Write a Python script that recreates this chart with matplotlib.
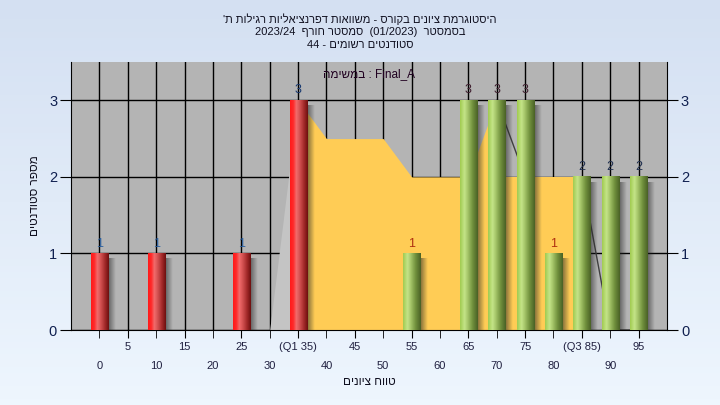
import re
import numpy as np
import matplotlib
matplotlib.use("Agg")
import matplotlib.pyplot as plt
from matplotlib.colors import LinearSegmentedColormap, to_rgb

plt.rcParams['font.family'] = ['Liberation Sans', 'DejaVu Sans']

# grade bins and number of students in each
grades = [0, 5, 10, 15, 20, 25, 30, 35, 40, 45, 50, 55, 60, 65, 70, 75, 80, 85, 90, 95]
counts = [1, 0, 1, 0, 0, 1, 0, 3, 0, 0, 0, 1, 0, 3, 3, 3, 1, 2, 2, 2]
q1, q3 = 35, 85
# the yellow trend area behind the bars
trend = [0, 0, 0, 0, 0, 0, 0, 3, 2.5, 2.5, 2.5, 2, 2, 2, 3, 2, 2, 2, 0, 0]

row1_labels = ['5', '15', '25', '(Q1 35)', '45', '55', '65', '75', '(Q3 85)', '95']
row2_labels = ['0', '10', '20', '30', '40', '50', '60', '70', '80', '90']

title_lines = ["היסטוגרמת ציונים בקורס - משוואות דפרנציאליות רגילות ת'",
               "בסמסטר  (01/2023)  סמסטר חורף  2023/24",
               "סטודנטים רשומים - 44"]
task_word = "במשימה"
task_name = "Final_A"
xlabel = "טווח ציונים"
ylabel = "מספר סטודנטים"


def vis(s):
    # matplotlib does no bidi, so lay the RTL text out in visual order
    r = s[::-1]
    r = re.sub(r'[0-9A-Za-z_/.]+', lambda m: m.group(0)[::-1], r)
    return r.translate(str.maketrans('()', ')('))


def hgrad(stops, n=48):
    cm = LinearSegmentedColormap.from_list('g', stops)
    return cm(np.linspace(0, 1, n))[np.newaxis, :, :3]


red_grad = hgrad([(0, '#ff1a1a'), (0.18, '#ff2a2a'), (0.35, '#f26c6c'),
                  (0.55, '#d25050'), (0.8, '#a02828'), (1, '#6e1010')])
green_grad = hgrad([(0, '#a2cc52'), (0.25, '#c4e488'), (0.45, '#a2c266'),
                    (0.7, '#72923e'), (1, '#4a6226')])
shadow = np.zeros((1, 24, 4))
shadow[..., :3] = 0.15
shadow[..., 3] = np.linspace(0.6, 0, 24)

x = np.arange(len(grades))
tr = np.array(trend, dtype=float)

fig = plt.figure(figsize=(7.2, 4.05), dpi=100)
bg = fig.add_axes([0, 0, 1, 1], zorder=-10)
top, bot = np.array(to_rgb('#d4e0f2')), np.array(to_rgb('#eef6fe'))
bg.imshow(np.linspace(0, 1, 64)[:, None, None] * (bot - top) + top, aspect='auto')
bg.axis('off')

ax = fig.add_axes([71 / 720, 1 - 330 / 405, 596 / 720, 268 / 405])
ax.set_facecolor('#b4b4b4')

# trend area pieces
ax.fill_between(x[6:8], tr[6:8], color='#c4c4c4', lw=0, zorder=1)
ax.fill_between(x[7:15], tr[7:15], color='#ffcc55', lw=0, zorder=1)
ax.fill_between(x[14:18], np.minimum(tr[14:18], 2), color='#ffcc55', lw=0, zorder=1)
ax.plot(x[14:16], tr[14:16], color='#404040', lw=1, zorder=1.5)
ax.plot(x[17:20], tr[17:20], color='#404040', lw=1, zorder=1.5)

w = 0.6
lab_colors = {1: '#b03010', 2: '#203050', 3: '#402030'}
for xi, g, c in zip(x, grades, counts):
    if c == 0:
        continue
    red = g <= q1
    ax.imshow(shadow, extent=(xi + w / 2, xi + w / 2 + 0.25, 0, c - 0.07),
              aspect='auto', zorder=2.5)
    ax.imshow(red_grad if red else green_grad, extent=(xi - w / 2, xi + w / 2, 0, c),
              aspect='auto', zorder=3)
    ax.text(xi, c + 0.05, str(c), ha='center', va='bottom', fontsize=9,
            color=('#1a3a70' if c == 3 else '#2b5f9e') if red else lab_colors[c], zorder=4)
ax.set_xlim(-1, 20)
ax.set_ylim(0, 3.5)

ax.set_xticks(x[1::2])
ax.set_xticklabels(row1_labels)
ax.set_xticks(x[0::2], minor=True)
ax.set_xticklabels(row2_labels, minor=True)
ax.tick_params(axis='x', which='major', length=6, pad=3, labelsize=8, colors='black',
               labelcolor='#202040')
ax.tick_params(axis='x', which='minor', length=6, pad=16, labelsize=8, colors='black',
               labelcolor='#202040')
ax.set_yticks([0, 1, 2, 3])
ax.tick_params(axis='y', length=8, labelsize=10.5, left=True, right=True,
               labelleft=True, labelright=True, labelcolor='#102050', pad=2)
ax.grid(True, which='both', axis='x', color='black', lw=1)
ax.grid(True, axis='y', color='black', lw=1)
ax.set_axisbelow(True)
ax.spines['top'].set_visible(False)
for s in ('left', 'right', 'bottom'):
    ax.spines[s].set_color('black')

ax.text(0.5, 0.955, vis(task_word) + ' : ' + task_name, transform=ax.transAxes,
        ha='center', va='center', fontsize=8.5, color='#200020')
ax.set_xlabel(vis(xlabel), fontsize=8.5, labelpad=4, color='#101020')
ax.set_ylabel(vis(ylabel), fontsize=8.5, labelpad=6, color='#101020')

for i, line in enumerate(title_lines):
    fig.text(0.5, 1 - (19 + 13 * i) / 405, vis(line), ha='center', va='center',
             fontsize=8, color='#101020')

fig.savefig('out.png', dpi=100)
